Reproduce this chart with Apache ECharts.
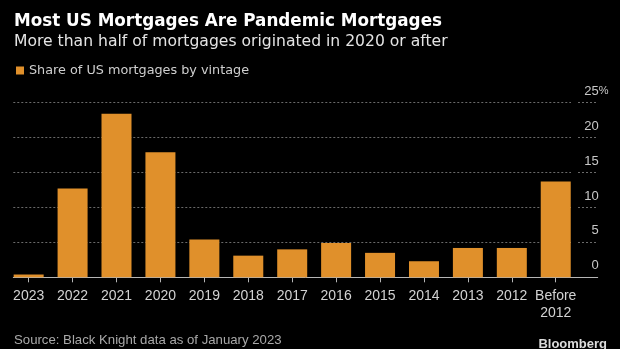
<!DOCTYPE html>
<html>
<head>
<meta charset="utf-8">
<script src="https://cdn.jsdelivr.net/npm/echarts@6/dist/echarts.min.js"></script>
<style>
html,body{margin:0;padding:0;background:#000;}
#chart{width:620px;height:349px;}
</style>
</head>
<body>
<div id="chart"></div>
<script>
var categories = ['2023','2022','2021','2020','2019','2018','2017','2016','2015','2014','2013','2012','Before\n2012'];
var shareValues = [0.4, 12.7, 23.4, 17.9, 5.4, 3.1, 4.0, 4.9, 3.5, 2.3, 4.2, 4.2, 13.7];
var seriesName = 'Share of US mortgages by vintage';
var yTicks = [0, 5, 10, 15, 20, 25];
var titleText = 'Most US Mortgages Are Pandemic Mortgages';
var subtitleText = 'More than half of mortgages originated in 2020 or after';
var sourceText = 'Source: Black Knight data as of January 2023';
var brandText = 'Bloomberg';

var yMin = yTicks[0], yMax = yTicks[yTicks.length - 1], yStep = yTicks[1] - yTicks[0];
var TOP = 102.7, BOTTOM = 71.7;
var gridColor = '#6a6a6a';

var chart = echarts.init(document.getElementById('chart'), null, {renderer: 'canvas'});
var hiddenY = function (gi) {
  return {type: 'value', gridIndex: gi, min: yMin, max: yMax, interval: yStep, show: false};
};
var option = {
  backgroundColor: '#000',
  animation: false,
  legend: {
    left: 16, top: 64, padding: 0, icon: 'rect', itemWidth: 8, itemHeight: 8,
    textStyle: {color: '#cfcfcf', fontSize: 12.8, fontFamily: 'DejaVu Sans'},
    data: [seriesName]
  },
  grid: [
    {left: 13.3, right: 22.3, top: TOP, bottom: BOTTOM},
    {left: 6.7, right: 42.3, top: TOP, bottom: BOTTOM},
    {left: 13.3, right: 49, top: TOP, bottom: BOTTOM},
    {left: 578, right: 22.3, top: TOP, bottom: BOTTOM}
  ],
  xAxis: [
    {type: 'value', gridIndex: 0, min: 0, max: 1, axisLine: {show: true, lineStyle: {color: '#b5b5b5', width: 1}},
      axisTick: {show: false}, axisLabel: {show: false}, splitLine: {show: false}},
    {type: 'category', gridIndex: 1, data: categories,
      axisLine: {show: false},
      axisTick: {show: true, alignWithLabel: true, length: 5, lineStyle: {color: '#b5b5b5'}},
      axisLabel: {color: '#d2d2d2', fontSize: 14, fontFamily: 'Liberation Sans', margin: 10.5, lineHeight: 17, interval: 0}},
    {type: 'value', gridIndex: 2, min: 0, max: 1, show: false},
    {type: 'value', gridIndex: 3, min: 0, max: 1, show: false}
  ],
  yAxis: [
    hiddenY(0),
    hiddenY(1),
    {type: 'value', gridIndex: 2, min: yMin, max: yMax, interval: yStep,
      axisLine: {show: false}, axisTick: {show: false}, axisLabel: {show: false},
      splitLine: {show: true, lineStyle: {color: gridColor, type: [2, 2], width: 1}}},
    {type: 'value', gridIndex: 3, min: yMin, max: yMax, interval: yStep, position: 'right',
      axisLine: {show: false}, axisTick: {show: false},
      splitLine: {show: true, lineStyle: {color: gridColor, type: [2, 2], width: 1}},
      axisLabel: {
        margin: 11, align: 'right', verticalAlign: 'bottom',
        formatter: function (v) { return '{a|' + v + '}{b|' + (v === yMax ? '%' : ' ') + '}'; },
        rich: {
          a: {color: '#c8c8c8', fontSize: 13, fontFamily: 'Liberation Sans', padding: [0, 0, 5, 0]},
          b: {color: '#c8c8c8', fontSize: 11, fontFamily: 'Liberation Sans', width: 10, align: 'left', padding: [0, 0, 5, 0]}
        }
      }}
  ],
  series: [{
    name: seriesName, type: 'bar', xAxisIndex: 1, yAxisIndex: 1,
    data: shareValues, barWidth: 30, itemStyle: {color: '#e0902b'}
  }],
  graphic: [
    {type: 'text', left: 14, top: 13.5, style: {text: titleText, fill: '#ffffff', font: 'bold 16.8px "DejaVu Sans"'}},
    {type: 'text', left: 14, top: 34, style: {text: subtitleText, fill: '#e4e4e4', font: '15.6px "DejaVu Sans"'}},
    {type: 'text', left: 14, top: 333.5, style: {text: sourceText, fill: '#a9a9a9', font: '13.2px "Liberation Sans"'}},
    {type: 'text', right: 13, top: 338, style: {text: brandText, fill: '#dcdcdc', font: 'bold 13px "Liberation Sans"'}}
  ]
};
chart.setOption(option);
</script>
</body>
</html>
